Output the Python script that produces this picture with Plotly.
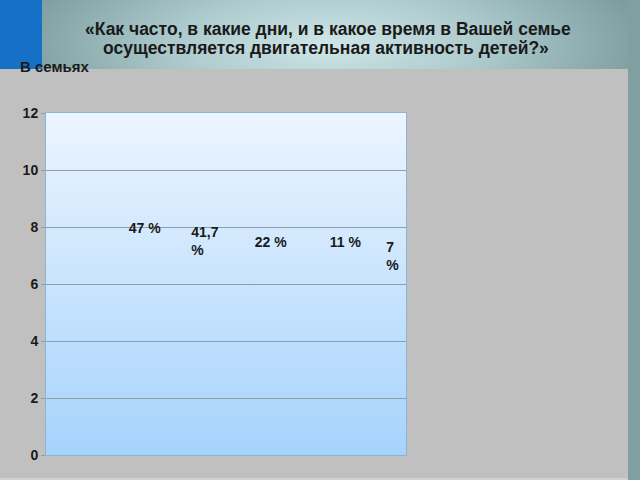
import base64
import plotly.graph_objects as go

# ---- data ----
label_texts = ["47 %", "41,7<br>%", "22 %", "11 %", "7<br>%"]
label_x = [1.38, 2.42, 3.48, 4.73, 5.67]
label_y = [7.9, 7.45, 7.42, 7.42, 6.93]
y_ticks = [0, 2, 4, 6, 8, 10, 12]

title_lines = ["«Как часто, в какие дни, и в какое время в Вашей семье",
               "осуществляется двигательная активность детей?»"]
subtitle_text = "В семьях"

W, H = 640, 480
L, R, T, B = 46, 234, 113, 25
PW, PH = W - L - R, H - T - B
FONT = "Liberation Sans, Arial, sans-serif"

def svg_uri(svg):
    return "data:image/svg+xml;base64," + base64.b64encode(svg.encode("utf-8")).decode()

def px_x(px):
    return (px - L) / PW

def px_y(py):
    return 1 + (T - py) / PH

page_svg = f"""<svg xmlns="http://www.w3.org/2000/svg" width="{W}" height="{H}" viewBox="0 0 {W} {H}" preserveAspectRatio="none">
<defs>
<radialGradient id="g" gradientUnits="userSpaceOnUse" cx="330" cy="45" r="320"
 gradientTransform="translate(330,45) scale(1,0.35) translate(-330,-45)">
<stop offset="0" stop-color="#cfe6e8"/>
<stop offset="0.5" stop-color="#abc9cb"/>
<stop offset="1" stop-color="#7c9c9f"/>
</radialGradient>
</defs>
<rect x="0" y="0" width="{W}" height="{H}" fill="url(#g)"/>
<rect x="628" y="0" width="12" height="{H}" fill="#7f9fa1"/>
<rect x="0" y="0" width="42" height="69" fill="#1670c8"/>
<rect x="0" y="69" width="628" height="409" fill="#c0c0c0"/>
<rect x="0" y="478" width="628" height="2" fill="#d0d0d0"/>
</svg>"""

plot_svg = """<svg xmlns="http://www.w3.org/2000/svg" width="100" height="100" viewBox="0 0 100 100" preserveAspectRatio="none">
<defs><linearGradient id="p" x1="0" y1="0" x2="0" y2="1">
<stop offset="0" stop-color="#ecf5ff"/>
<stop offset="1" stop-color="#a6d3fc"/>
</linearGradient></defs>
<rect x="0" y="0" width="100" height="100" fill="url(#p)"/>
</svg>"""

fig = go.Figure()
fig.add_trace(go.Scatter(
    x=label_x, y=label_y, mode="text", text=label_texts,
    textposition="middle right",
    textfont=dict(family=FONT, size=14, color="#1a1a1a", weight="bold"),
    hoverinfo="skip", showlegend=False,
))

annotations = [
    dict(text=title_lines[0], xref="paper", yref="paper",
         x=px_x(328), y=px_y(29), xanchor="center", yanchor="middle",
         showarrow=False, font=dict(family=FONT, size=17.5, color="#1a1a1a", weight="bold")),
    dict(text=title_lines[1], xref="paper", yref="paper",
         x=px_x(326), y=px_y(48), xanchor="center", yanchor="middle",
         showarrow=False, font=dict(family=FONT, size=17.5, color="#1a1a1a", weight="bold")),
    dict(text=subtitle_text, xref="paper", yref="paper",
         x=px_x(18), y=px_y(67), xanchor="left", yanchor="middle",
         showarrow=False, font=dict(family=FONT, size=15, color="#1a1a1a", weight="bold")),
]

fig.update_layout(
    width=W, height=H,
    margin=dict(l=L, r=R, t=T, b=B, pad=0),
    paper_bgcolor="#c0c0c0",
    plot_bgcolor="rgba(0,0,0,0)",
    showlegend=False,
    xaxis=dict(range=[0, 6], showgrid=False, zeroline=False, showticklabels=False,
               ticks="", showline=True, mirror=True, linecolor="#8fb4cf", linewidth=1),
    yaxis=dict(range=[0, 12], tickvals=y_ticks, showgrid=True, gridcolor="#8d9eab", gridwidth=1,
               zeroline=False, ticks="outside", ticklen=4, tickcolor="#8d9eab",
               showline=True, mirror=True, linecolor="#8fb4cf", linewidth=1,
               tickfont=dict(family=FONT, size=14, color="#1a1a1a", weight="bold")),
    images=[
        dict(source=svg_uri(page_svg), xref="paper", yref="paper",
             x=-L / PW, y=1 + T / PH, sizex=W / PW, sizey=H / PH,
             sizing="stretch", xanchor="left", yanchor="top", layer="below"),
        dict(source=svg_uri(plot_svg), xref="x domain", yref="y domain",
             x=0, y=1, sizex=1, sizey=1, sizing="stretch",
             xanchor="left", yanchor="top", layer="below"),
    ],
    annotations=annotations,
)

fig.write_html("out.html", config={"displayModeBar": False},
               post_script="document.body.style.margin='0';document.body.style.overflow='hidden';")
